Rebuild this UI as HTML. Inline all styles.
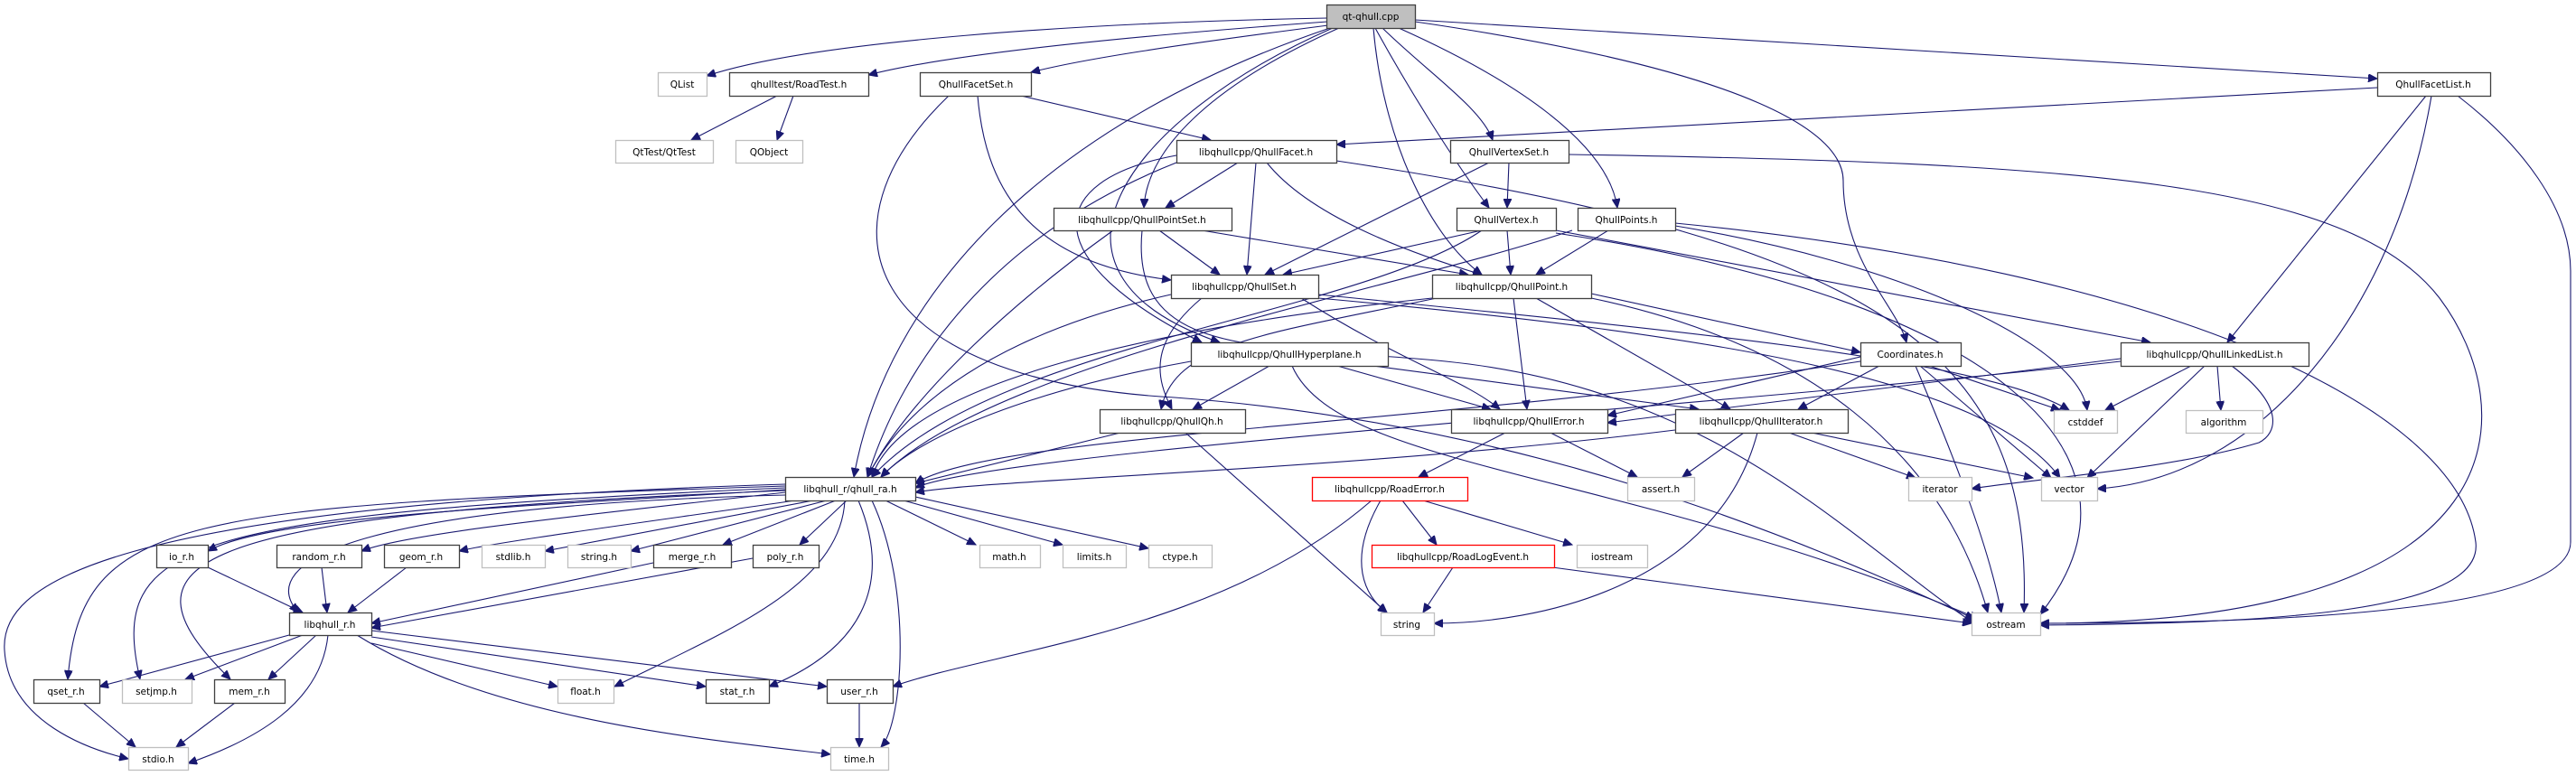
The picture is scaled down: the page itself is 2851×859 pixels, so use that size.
<!DOCTYPE html>
<html><head><meta charset="utf-8"><style>
html,body{margin:0;padding:0;background:#fff;}
svg{display:block;}
text{font-family:"DejaVu Sans","Liberation Sans",sans-serif;font-size:10.5px;text-anchor:middle;fill:#000;}
.e{fill:none;stroke:#191970;stroke-width:1.1;marker-end:url(#a);}
.n{fill:#fff;stroke:#404040;stroke-width:1.3;}
.g{fill:#fff;stroke:#bfbfbf;stroke-width:1.3;}
.r{fill:#fff;stroke:#ff0000;stroke-width:1.3;}
</style></head><body>
<svg width="2851" height="859" viewBox="0 0 2851 859" xmlns="http://www.w3.org/2000/svg">
<defs><marker id="a" markerUnits="userSpaceOnUse" markerWidth="11" markerHeight="9" refX="10" refY="4.5" orient="auto"><path d="M0,0 L10,4.5 L0,9 Z" fill="#191970" stroke="#191970"/></marker></defs>
<g>
<!-- qt-qhull.cpp -->
<path class="e" d="M1469,20 C1200,25 900,45 782,84"/>
<path class="e" d="M1469,24 C1250,40 1050,60 961,83"/>
<path class="e" d="M1470,28 C1300,50 1200,65 1141,80"/>
<path class="e" d="M1566,22 C2000,50 2400,70 2631,87"/>
<path class="e" d="M1530,31 C1580,80 1640,120 1652,155"/>
<path class="e" d="M1522,31 C1560,100 1610,180 1648,230"/>
<path class="e" d="M1548,31 C1680,90 1780,160 1790,230"/>
<path class="e" d="M1520,31 C1530,150 1580,260 1640,304"/>
<path class="e" d="M1482,31 C1350,90 1270,160 1266,230"/>
<path class="e" d="M1475,31 C1250,130 1120,300 1350,379"/>
<path class="e" d="M1566,24 C1950,80 2040,150 2040,200 C2040,290 2100,340 2110,379"/>
<path class="e" d="M1472,31 C1150,140 980,330 945,528"/>
<!-- RoadTest -->
<path class="e" d="M860,106 L765,155"/>
<path class="e" d="M878,106 L860,155"/>
<!-- FacetSet -->
<path class="e" d="M1130,106 L1340,155"/>
<path class="e" d="M1082,106 C1090,200 1130,290 1296,310"/>
<path class="e" d="M1050,106 C900,250 950,420 1300,440 C1700,470 2000,600 2185,685"/>
<!-- FacetList -->
<path class="e" d="M2631,97 L1479,160"/>
<path class="e" d="M2685,106 L2465,379"/>
<path class="e" d="M2691,106 C2650,350 2500,530 2321,541"/>
<path class="e" d="M2720,106 C2790,160 2845,230 2845,300 L2845,600 C2845,680 2500,690 2258,690"/>
<!-- Facet -->
<path class="e" d="M1370,180 L1290,230"/>
<path class="e" d="M1390,180 L1380,304"/>
<path class="e" d="M1402,180 C1450,240 1560,280 1640,304"/>
<path class="e" d="M1302,172 C1150,200 1150,290 1330,379"/>
<path class="e" d="M1302,180 C1100,260 1000,400 960,528"/>
<path class="e" d="M1479,178 C2100,270 2250,400 2240,678"/>
<!-- VertexSet -->
<path class="e" d="M1670,180 L1668,230"/>
<path class="e" d="M1648,180 L1400,304"/>
<path class="e" d="M1736,171 C2300,180 2600,200 2700,330 C2790,450 2800,690 2258,690"/>
<!-- PointSet -->
<path class="e" d="M1283,255 L1350,304"/>
<path class="e" d="M1330,255 L1625,304"/>
<path class="e" d="M1232,255 C1100,350 1000,450 960,528"/>
<path class="e" d="M1264,255 C1250,400 1400,380 1600,400 C1900,430 2050,600 2185,690"/>
<!-- Vertex -->
<path class="e" d="M1640,255 L1420,304"/>
<path class="e" d="M1668,255 L1672,304"/>
<path class="e" d="M1722,255 L2380,379"/>
<path class="e" d="M1640,255 C1500,350 1100,380 965,528"/>
<path class="e" d="M1722,258 C2200,330 2400,500 2258,680"/>
<!-- Points -->
<path class="e" d="M1780,255 L1700,304"/>
<path class="e" d="M1854,250 C2100,290 2300,380 2310,454"/>
<path class="e" d="M1854,247 C2400,300 2720,450 2740,600 C2750,680 2500,690 2258,692"/>
<path class="e" d="M1740,255 C1550,320 1100,400 975,528"/>
<!-- QhullSet -->
<path class="e" d="M1330,330 C1270,380 1280,420 1297,453"/>
<path class="e" d="M1440,330 C1550,400 1620,420 1660,453"/>
<path class="e" d="M1296,326 C1100,370 1000,450 960,528"/>
<path class="e" d="M1459,326 C1900,370 2200,400 2290,454"/>
<path class="e" d="M1459,330 C1900,370 2200,420 2280,529"/>
<!-- QhullPoint -->
<path class="e" d="M1675,330 L1690,453"/>
<path class="e" d="M1700,330 L1915,453"/>
<path class="e" d="M1761,325 L2059,390"/>
<path class="e" d="M1585,330 C1300,360 1000,420 965,528"/>
<path class="e" d="M1590,330 C1400,370 1300,380 1285,453"/>
<path class="e" d="M1761,330 C2000,380 2150,500 2200,678"/>
<!-- Hyperplane -->
<path class="e" d="M1405,405 L1320,453"/>
<path class="e" d="M1480,405 L1650,453"/>
<path class="e" d="M1520,405 L1880,453"/>
<path class="e" d="M1318,400 C1150,430 1020,480 975,528"/>
<path class="e" d="M1430,405 C1480,520 1800,520 2190,685"/>
<!-- Coordinates -->
<path class="e" d="M2059,395 L1779,460"/>
<path class="e" d="M2080,405 L1990,453"/>
<path class="e" d="M2059,400 C1600,470 1100,480 1013,535"/>
<path class="e" d="M2135,405 L2280,454"/>
<path class="e" d="M2125,405 L2270,529"/>
<path class="e" d="M2120,405 C2160,500 2200,600 2215,678"/>
<!-- LinkedList -->
<path class="e" d="M2347,397 L1779,468"/>
<path class="e" d="M2347,400 C1900,450 1100,500 1013,540"/>
<path class="e" d="M2425,405 L2330,454"/>
<path class="e" d="M2454,405 L2458,454"/>
<path class="e" d="M2440,405 L2310,529"/>
<path class="e" d="M2470,405 C2530,450 2520,480 2500,490 C2400,520 2250,530 2182,541"/>
<!-- QhullQh -->
<path class="e" d="M1240,479 L1013,535"/>
<path class="e" d="M1312,479 L1535,678"/>
<!-- Error -->
<path class="e" d="M1666,479 L1570,528"/>
<path class="e" d="M1716,479 L1812,528"/>
<!-- Iterator -->
<path class="e" d="M1854,476 C1500,520 1100,530 1013,545"/>
<path class="e" d="M1930,479 L1862,528"/>
<path class="e" d="M1980,479 L2120,529"/>
<path class="e" d="M2005,479 L2250,529"/>
<path class="e" d="M1945,479 C1900,650 1700,690 1587,690"/>
<!-- RoadError -->
<path class="e" d="M1552,554 L1590,603"/>
<path class="e" d="M1575,554 L1740,603"/>
<path class="e" d="M1528,554 C1490,620 1510,660 1535,678"/>
<path class="e" d="M1518,554 C1350,700 1100,720 988,760"/>
<!-- RoadLogEvent -->
<path class="e" d="M1608,628 L1575,678"/>
<path class="e" d="M1718,628 L2182,690"/>
<!-- qhull_ra -->
<path class="e" d="M869,542 C600,560 300,570 230,610"/>
<path class="e" d="M869,545 C650,570 450,590 400,610"/>
<path class="e" d="M880,554 C700,580 550,600 508,610"/>
<path class="e" d="M900,554 L603,610"/>
<path class="e" d="M915,554 L698,610"/>
<path class="e" d="M925,554 L800,603"/>
<path class="e" d="M937,554 L885,603"/>
<path class="e" d="M980,554 L1080,603"/>
<path class="e" d="M1000,554 L1176,603"/>
<path class="e" d="M1013,550 L1271,607"/>
<path class="e" d="M869,548 C400,560 280,620 330,678"/>
<path class="e" d="M869,538 C200,560 90,570 75,752"/>
<path class="e" d="M869,540 C200,570 120,600 155,752"/>
<path class="e" d="M869,543 C200,570 120,620 255,752"/>
<path class="e" d="M869,536 C100,560 0,650 5,720 C10,800 100,830 142,840"/>
<path class="e" d="M935,554 C930,650 800,700 680,760"/>
<path class="e" d="M950,554 C990,650 950,720 851,760"/>
<path class="e" d="M965,554 C1010,650 1000,800 975,827"/>
<!-- libqhull_r -->
<path class="e" d="M320,703 L110,760"/>
<path class="e" d="M335,703 L205,752"/>
<path class="e" d="M350,703 L297,752"/>
<path class="e" d="M363,703 C355,780 280,820 208,845"/>
<path class="e" d="M411,712 L617,760"/>
<path class="e" d="M411,705 L781,760"/>
<path class="e" d="M411,698 L915,760"/>
<path class="e" d="M395,703 C550,800 800,820 919,835"/>
<path class="e" d="M230,628 L335,678"/>
<path class="e" d="M356,628 L362,678"/>
<path class="e" d="M450,628 L385,678"/>
<path class="e" d="M723,623 L411,690"/>
<path class="e" d="M833,618 L411,695"/>
<path class="e" d="M92,778 L150,827"/>
<path class="e" d="M260,778 L195,827"/>
<path class="e" d="M951,778 L951,827"/>
</g>
<g>
<rect x="1468.5" y="5.5" width="98" height="26" fill="#bfbfbf" stroke="#404040" stroke-width="1.3"/><text x="1517" y="22">qt-qhull.cpp</text>
<rect class="g" x="728.5" y="80.5" width="54" height="26"/><text x="755" y="97">QList</text>
<rect class="n" x="807.5" y="80.5" width="154" height="26"/><text x="884" y="97">qhulltest/RoadTest.h</text>
<rect class="n" x="1018.5" y="80.5" width="123" height="26"/><text x="1080" y="97">QhullFacetSet.h</text>
<rect class="n" x="2631.5" y="80.5" width="125" height="26"/><text x="2693" y="97">QhullFacetList.h</text>
<rect class="g" x="681.5" y="155.5" width="108" height="25"/><text x="735" y="172">QtTest/QtTest</text>
<rect class="g" x="814.5" y="155.5" width="74" height="25"/><text x="851" y="172">QObject</text>
<rect class="n" x="1302.5" y="155.5" width="177" height="25"/><text x="1390" y="172">libqhullcpp/QhullFacet.h</text>
<rect class="n" x="1605.5" y="155.5" width="131" height="25"/><text x="1670" y="172">QhullVertexSet.h</text>
<rect class="n" x="1166.5" y="230.5" width="197" height="25"/><text x="1264" y="247">libqhullcpp/QhullPointSet.h</text>
<rect class="n" x="1612.5" y="230.5" width="110" height="25"/><text x="1667" y="247">QhullVertex.h</text>
<rect class="n" x="1746.5" y="230.5" width="108" height="25"/><text x="1800" y="247">QhullPoints.h</text>
<rect class="n" x="1296.5" y="304.5" width="163" height="26"/><text x="1377" y="321">libqhullcpp/QhullSet.h</text>
<rect class="n" x="1585.5" y="304.5" width="176" height="26"/><text x="1673" y="321">libqhullcpp/QhullPoint.h</text>
<rect class="n" x="1318.5" y="379.5" width="218" height="26"/><text x="1427" y="396">libqhullcpp/QhullHyperplane.h</text>
<rect class="n" x="2059.5" y="379.5" width="111" height="26"/><text x="2114" y="396">Coordinates.h</text>
<rect class="n" x="2347.5" y="379.5" width="208" height="26"/><text x="2451" y="396">libqhullcpp/QhullLinkedList.h</text>
<rect class="n" x="1217.5" y="453.5" width="161" height="26"/><text x="1297" y="470">libqhullcpp/QhullQh.h</text>
<rect class="n" x="1606.5" y="453.5" width="173" height="26"/><text x="1692" y="470">libqhullcpp/QhullError.h</text>
<rect class="n" x="1854.5" y="453.5" width="191" height="26"/><text x="1949" y="470">libqhullcpp/QhullIterator.h</text>
<rect class="g" x="2273.5" y="454.5" width="70" height="25"/><text x="2308" y="471">cstddef</text>
<rect class="g" x="2419.5" y="454.5" width="85" height="25"/><text x="2461" y="471">algorithm</text>
<rect class="n" x="869.5" y="528.5" width="144" height="26"/><text x="941" y="545">libqhull_r/qhull_ra.h</text>
<rect class="r" x="1452.5" y="528.5" width="172" height="26"/><text x="1538" y="545">libqhullcpp/RoadError.h</text>
<rect class="g" x="1801.5" y="528.5" width="74" height="26"/><text x="1838" y="545">assert.h</text>
<rect class="g" x="2112.5" y="528.5" width="70" height="26"/><text x="2147" y="545">iterator</text>
<rect class="g" x="2259.5" y="528.5" width="62" height="26"/><text x="2290" y="545">vector</text>
<rect class="n" x="173.5" y="603.5" width="57" height="25"/><text x="201" y="620">io_r.h</text>
<rect class="n" x="306.5" y="603.5" width="94" height="25"/><text x="353" y="620">random_r.h</text>
<rect class="n" x="425.5" y="603.5" width="83" height="25"/><text x="466" y="620">geom_r.h</text>
<rect class="g" x="533.5" y="603.5" width="70" height="25"/><text x="568" y="620">stdlib.h</text>
<rect class="g" x="628.5" y="603.5" width="70" height="25"/><text x="663" y="620">string.h</text>
<rect class="n" x="723.5" y="603.5" width="86" height="25"/><text x="766" y="620">merge_r.h</text>
<rect class="n" x="833.5" y="603.5" width="73" height="25"/><text x="869" y="620">poly_r.h</text>
<rect class="g" x="1084.5" y="603.5" width="67" height="25"/><text x="1117" y="620">math.h</text>
<rect class="g" x="1176.5" y="603.5" width="70" height="25"/><text x="1211" y="620">limits.h</text>
<rect class="g" x="1271.5" y="603.5" width="70" height="25"/><text x="1306" y="620">ctype.h</text>
<rect class="r" x="1518.5" y="603.5" width="202" height="25"/><text x="1619" y="620">libqhullcpp/RoadLogEvent.h</text>
<rect class="g" x="1745.5" y="603.5" width="78" height="25"/><text x="1784" y="620">iostream</text>
<rect class="n" x="320.5" y="678.5" width="91" height="25"/><text x="365" y="695">libqhull_r.h</text>
<rect class="g" x="1528.5" y="678.5" width="59" height="25"/><text x="1557" y="695">string</text>
<rect class="g" x="2182.5" y="678.5" width="76" height="25"/><text x="2220" y="695">ostream</text>
<rect class="n" x="37.5" y="752.5" width="73" height="26"/><text x="73" y="769">qset_r.h</text>
<rect class="g" x="135.5" y="752.5" width="77" height="26"/><text x="173" y="769">setjmp.h</text>
<rect class="n" x="237.5" y="752.5" width="78" height="26"/><text x="276" y="769">mem_r.h</text>
<rect class="g" x="617.5" y="752.5" width="62" height="26"/><text x="648" y="769">float.h</text>
<rect class="n" x="781.5" y="752.5" width="70" height="26"/><text x="816" y="769">stat_r.h</text>
<rect class="n" x="915.5" y="752.5" width="73" height="26"/><text x="951" y="769">user_r.h</text>
<rect class="g" x="142.5" y="827.5" width="66" height="25"/><text x="175" y="844">stdio.h</text>
<rect class="g" x="919.5" y="827.5" width="64" height="25"/><text x="951" y="844">time.h</text>
</g>
</svg>
</body></html>
